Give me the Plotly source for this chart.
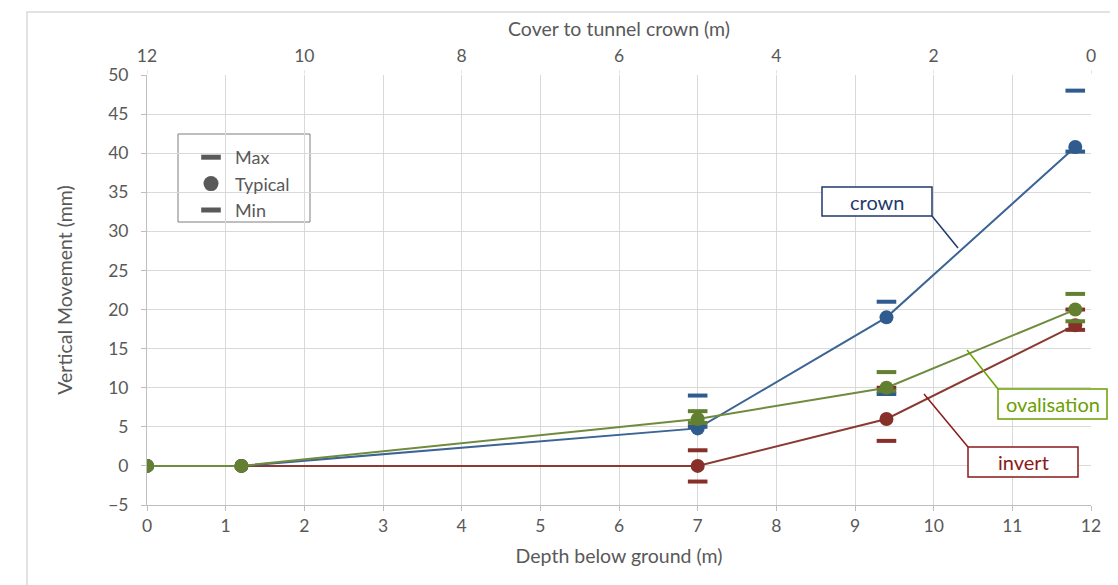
import plotly.graph_objects as go

depth = [0, 1.2, 7, 9.4, 11.8]
crown_typ = [0, 0, 4.8, 19, 40.8]
crown_max = [None, None, 9, 21, 48]
crown_min = [None, None, 5, 9.2, 40.2]
oval_typ = [0, 0, 6, 10, 20]
oval_max = [None, None, 7, 12, 22]
oval_min = [None, None, 5.5, 9.6, 18.5]
inv_typ = [0, 0, 0, 6, 18]
inv_max = [None, None, 2, 10, 20]
inv_min = [None, None, -2, 3.2, 17.4]

cover_ticks = [12, 10, 8, 6, 4, 2, 0]

BLUE = "#2f5b8f"
GREEN = "#62802f"
RED = "#87302a"
GRAY = "#595959"
FONT = "Lato"

OFF = 8  # page body margin
W, H = 1118 - OFF, 585 - OFF
L, R, T, B = 147 - OFF, 27, 75 - OFF, 88 - OFF
PW, PH = W - L - R, H - T - B


def px(x):
    return (x - OFF - L) / PW


def py(y):
    return (H - B - (y - OFF)) / PH


fig = go.Figure()


def add_series(typ, mx, mn, color, line_color):
    fig.add_trace(go.Scatter(x=depth, y=typ, mode="lines+markers",
                             line=dict(color=line_color, width=2),
                             marker=dict(symbol="circle", size=14, color=color),
                             showlegend=False))
    for arr in (mx, mn):
        fig.add_trace(go.Scatter(x=depth, y=arr, mode="markers",
                                 marker=dict(symbol="line-ew-open", size=14, color=color,
                                             line=dict(color=color, width=4)),
                                 showlegend=False))


add_series(inv_typ, inv_max, inv_min, RED, "#8a3a33")
add_series(crown_typ, crown_max, crown_min, BLUE, "#3c6494")
add_series(oval_typ, oval_max, oval_min, GREEN, "#6f8c3e")

# legend entries
fig.add_trace(go.Scatter(x=[None], y=[None], mode="markers", name="Max",
                         marker=dict(symbol="line-ew-open", size=14, color=GRAY,
                                     line=dict(color=GRAY, width=5))))
fig.add_trace(go.Scatter(x=[None], y=[None], mode="markers", name="Typical",
                         marker=dict(symbol="circle", size=15, color=GRAY)))
fig.add_trace(go.Scatter(x=[None], y=[None], mode="markers", name="Min",
                         marker=dict(symbol="line-ew-open", size=14, color=GRAY,
                                     line=dict(color=GRAY, width=5))))

# invisible trace on top axis
fig.add_trace(go.Scatter(x=cover_ticks, y=[None] * len(cover_ticks), xaxis="x2",
                         mode="markers", showlegend=False, hoverinfo="skip"))

grid = "#d9d9d9"
TICKF = dict(size=17.5, color=GRAY)
TITLEF = dict(size=19.5, color=GRAY)
fig.update_layout(
    width=W, height=H,
    margin=dict(l=L, r=R, t=T, b=B, autoexpand=False),
    paper_bgcolor="white", plot_bgcolor="white",
    font=dict(family=FONT, size=16, color=GRAY),
    xaxis=dict(range=[0, 12], dtick=1, tick0=0, showgrid=True, gridcolor=grid,
               zeroline=False, showline=True, linecolor="#bfbfbf", automargin=False,
               ticks="outside", ticklen=5, tickcolor="#bfbfbf", ticklabelstandoff=0,
               tickfont=TICKF,
               title=dict(text="Depth below ground (m)", standoff=14, font=TITLEF)),
    xaxis2=dict(overlaying="x", side="top", range=[12, 0], automargin=False,
                tickvals=cover_ticks, showgrid=False, zeroline=False,
                ticks="outside", ticklen=4, tickcolor="#e6e6e6", ticklabelstandoff=1,
                tickfont=TICKF,
                title=dict(text="Cover to tunnel crown (m)", standoff=3, font=TITLEF)),
    yaxis=dict(range=[-5, 50], dtick=5, tick0=0, showgrid=True, gridcolor=grid,
               zeroline=False, showline=True, linecolor="#bfbfbf", automargin=False,
               ticks="outside", ticklen=5, tickcolor="#bfbfbf", ticklabelstandoff=9,
               tickfont=TICKF,
               title=dict(text="Vertical Movement (mm)", standoff=30, font=TITLEF)),
    legend=dict(x=px(187), y=py(139), xanchor="left", yanchor="top",
                bgcolor="rgba(0,0,0,0)", borderwidth=0, itemwidth=38,
                font=dict(size=18, color=GRAY), tracegroupgap=0),
)

# outer chart border
fig.add_shape(type="rect", xref="paper", yref="paper",
              x0=px(27), x1=px(1130), y0=py(600), y1=py(12),
              line=dict(color="#d9d9d9", width=1.5), layer="below")

# legend box
fig.add_shape(type="rect", xref="paper", yref="paper",
              x0=px(178), x1=px(310), y0=py(222), y1=py(134),
              line=dict(color="#7f7f7f", width=1), fillcolor="white", layer="below")


def label(text, color, bx0, by0, bx1, by1, lx0, ly0, lx1, ly1):
    fig.add_shape(type="rect", xref="paper", yref="paper",
                  x0=px(bx0), x1=px(bx1), y0=py(by1), y1=py(by0),
                  line=dict(color=color, width=1.5), fillcolor="white")
    fig.add_shape(type="line", xref="paper", yref="paper",
                  x0=px(lx0), y0=py(ly0), x1=px(lx1), y1=py(ly1),
                  line=dict(color=color, width=1.5))
    fig.add_annotation(x=px((bx0 + bx1) / 2), y=py((by0 + by1) / 2),
                       xref="paper", yref="paper", text=text, showarrow=False,
                       xanchor="center", yanchor="middle",
                       font=dict(size=20, color=color, family=FONT))


label("crown", "#1f3a6e", 822, 187, 932, 216, 932, 216, 958, 248)
label("ovalisation", "#6aa000", 998, 389, 1107, 419, 998, 389, 967, 350)
label("invert", "#8b1a1a", 968, 447, 1078, 477, 968, 447, 924, 394)

fig.write_html("out.html")
